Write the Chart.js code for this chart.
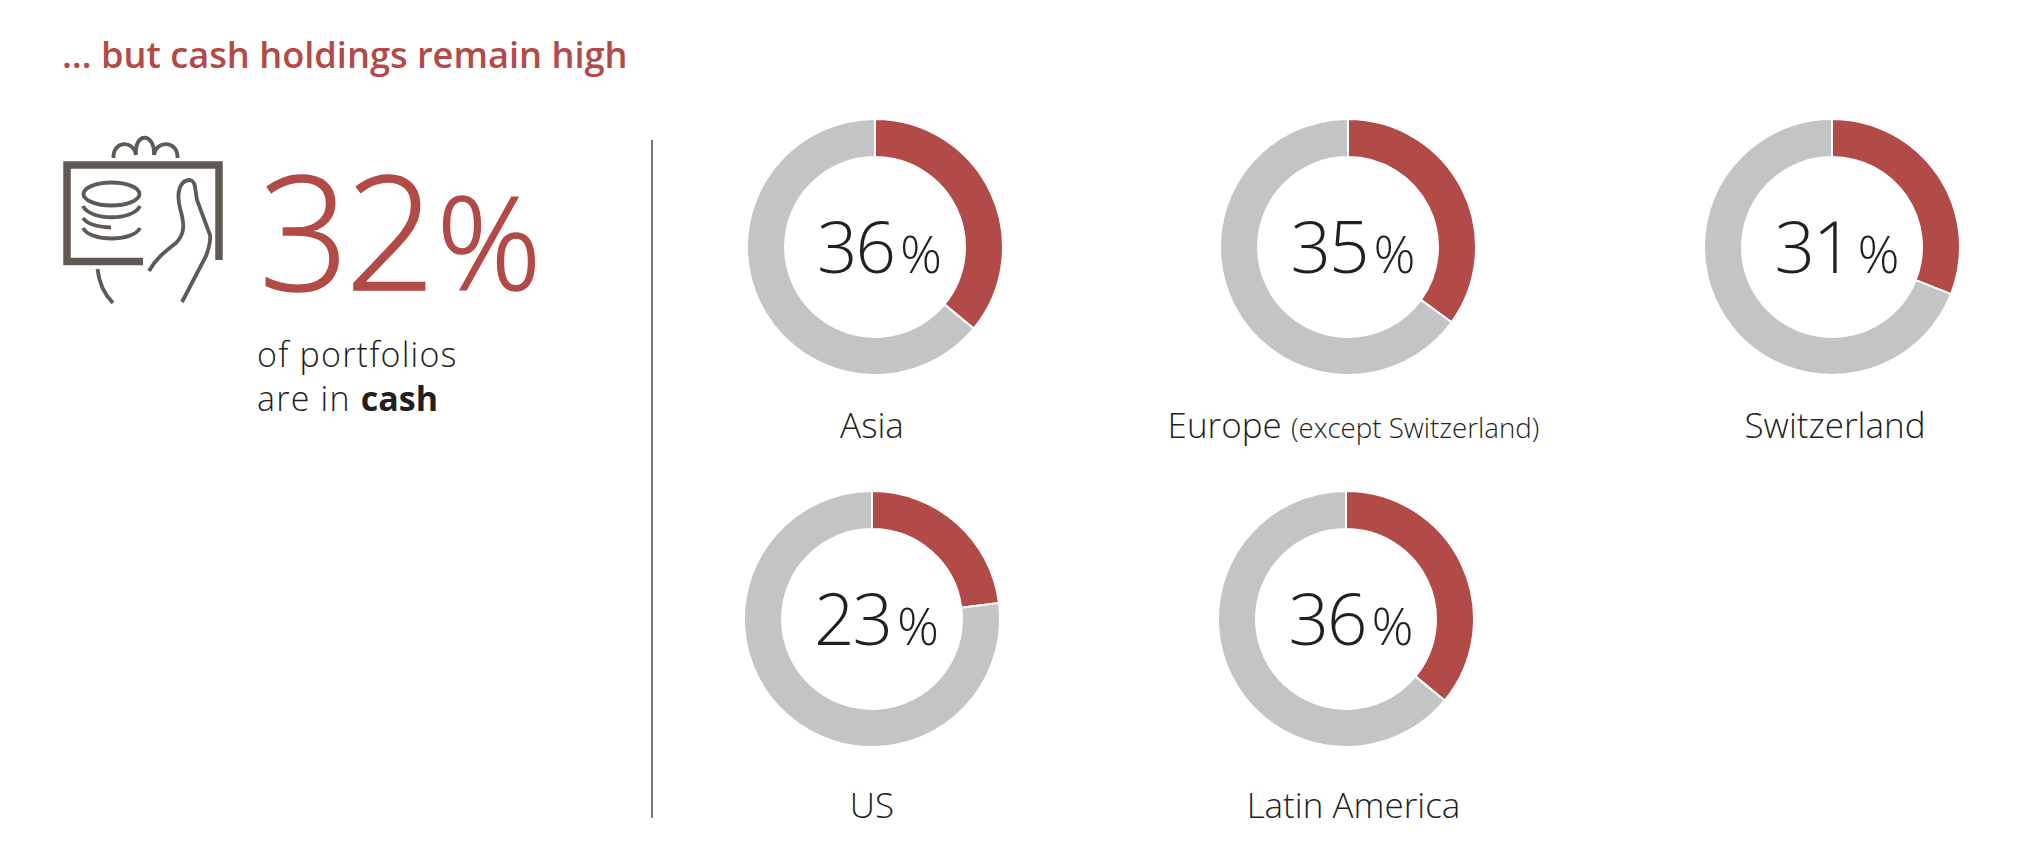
<!DOCTYPE html>
<html>
<head>
<meta charset="utf-8">
<title>Cash holdings</title>
<script src="https://cdn.jsdelivr.net/npm/chart.js@4"></script>
<style>
  html, body { margin: 0; padding: 0; background: #fff; }
  body { width: 2035px; height: 847px; position: relative; overflow: hidden; font-family: "Open Sans", sans-serif; font-weight: 300; color: #231f20; }
  .abs { position: absolute; white-space: nowrap; line-height: 1; }
  #title { left: 62px; top: 36px; font-size: 36.2px; font-weight: 600; color: #b24a47; }
  #big { left: 259px; top: 150px; font-size: 158px; letter-spacing: -4px; color: #b24a47; -webkit-text-stroke: 1.5px #b24a47; }
  #big span { font-size: 130px; margin-left: 5px; letter-spacing: 0; }
  #sub { left: 257px; top: 332px; font-size: 34px; line-height: 44px; letter-spacing: 1.2px; white-space: normal; }
  #sub b { font-weight: 700; letter-spacing: 0; }
  #rule { left: 651px; top: 140px; width: 1.5px; height: 678px; background: #777; }
  #icon { left: 0; top: 0; }
  .ring { position: absolute; width: 258px; height: 258px; }
  .val { width: 300px; text-align: center; font-size: 71px; letter-spacing: -2px; }
  .val span { font-size: 52px; margin-left: 6px; letter-spacing: 0; }
  .lab { width: 500px; text-align: center; font-size: 35px; }
  .lab small { font-size: 27.7px; }
</style>
</head>
<body>
<div class="abs" id="title">… but cash holdings remain high</div>

<svg class="abs" id="icon" width="250" height="320" fill="none" stroke="#5f5a54" stroke-width="3.8">
  <path d="M143 261.5H67V165H219V260" stroke-width="7.5"/>
  <path d="M113.500 158C113 140 134 140 136 155M136 155C134 132 155 132 154 155M154 155C156 140 178 140 177.500 158"/>
  <ellipse cx="111.500" cy="194" rx="28" ry="11.500"/>
  <path d="M83 206C90 221 133 221 140 206M83 218C87 224 98 227 111 227.500M83 228C90 242 133 242 140 228"/>
  <path d="M149 271C156 258 166 251 176 243C186 233 184 222 180 208C176 192 180 180 190 180C196 181 195 190 197 200L210 235C211 243 208 250 206 256L182 302"/>
  <path d="M97.500 269C99 283 105 295 113 303"/>
</svg>

<div class="abs" id="big">32<span>%</span></div>
<div class="abs" id="sub">of portfolios<br>are in <b>cash</b></div>
<div class="abs" id="rule"></div>

<script>
var regions = ["Asia", "Europe", "Switzerland", "US", "Latin America"];
var regionNotes = ["", "(except Switzerland)", "", "", ""];
var cashShare = [36, 35, 31, 23, 36];
var otherShare = [64, 65, 69, 77, 64];

// ring centres and label centres on the page
var cellX = [874.5, 1348, 1832, 871.5, 1346];
var cellY = [247, 247, 247, 619, 619];
var labelX = [872, 1353.5, 1835, 872, 1353.5];
var labelY = [426, 426, 426, 806, 806];

regions.forEach(function (name, i) {
    var canvas = document.createElement("canvas");
    var box = document.createElement("div");
    box.className = "ring";
    box.style.left = (cellX[i] - 129) + "px";
    box.style.top = (cellY[i] - 129) + "px";
    box.appendChild(canvas);
    document.body.appendChild(box);

    new Chart(canvas, {
        type: "doughnut",
        data: {
            labels: ["Cash", "Other"],
            datasets: [{
                data: [cashShare[i], otherShare[i]],
                backgroundColor: ["#b24a47", "#c2c4c5"],
                borderColor: "#fff",
                borderWidth: 2
            }]
        },
        options: {
            responsive: true,
            maintainAspectRatio: false,
            animation: false,
            cutout: "70.3%",
            plugins: { legend: { display: false }, tooltip: { enabled: false } }
        }
    });

    var val = document.createElement("div");
    val.className = "abs val";
    val.style.left = (cellX[i] - 145) + "px";
    val.style.top = (cellY[i] - 37) + "px";
    val.innerHTML = cashShare[i] + "<span>%</span>";
    document.body.appendChild(val);

    var lab = document.createElement("div");
    lab.className = "abs lab";
    lab.style.left = (labelX[i] - 250) + "px";
    lab.style.top = (labelY[i] - 19) + "px";
    lab.innerHTML = name + (regionNotes[i] ? " <small>" + regionNotes[i] + "</small>" : "");
    document.body.appendChild(lab);
});
</script>
</body>
</html>
